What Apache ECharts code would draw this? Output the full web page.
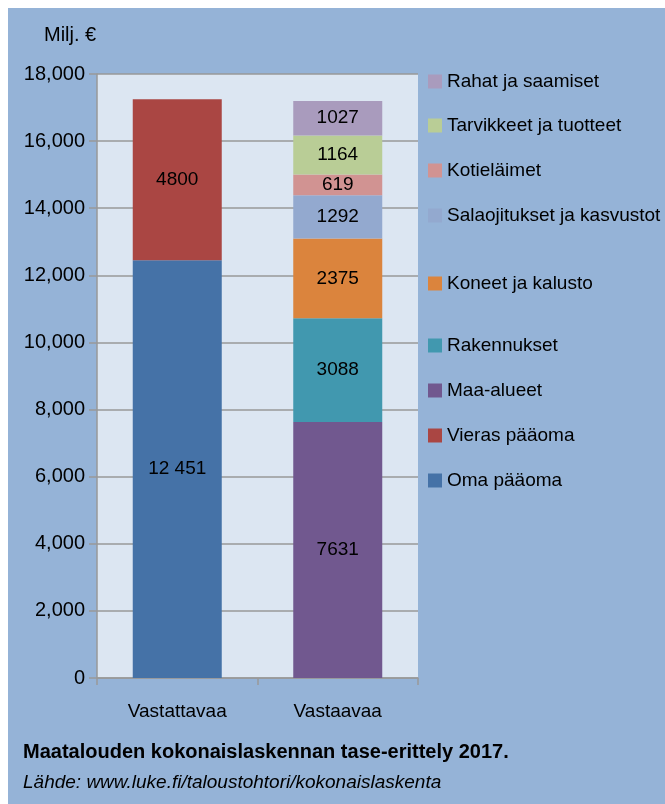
<!DOCTYPE html>
<html>
<head>
<meta charset="utf-8">
<script src="https://cdn.jsdelivr.net/npm/echarts@6/dist/echarts.min.js"></script>
<style>
  html, body { margin: 0; padding: 0; background: #fff; }
  #chart { position: absolute; left: 8px; top: 8px; width: 657px; height: 796px; }
</style>
</head>
<body>
<div id="chart"></div>
<script>
// data (Milj. €)
const categories = ['Vastattavaa', 'Vastaavaa'];
const yTicks = [0, 2000, 4000, 6000, 8000, 10000, 12000, 14000, 16000, 18000];

const omaPaaoma = [12451, '-'];
const vierasPaaoma = [4800, '-'];
const maaAlueet = ['-', 7631];
const rakennukset = ['-', 3088];
const koneet = ['-', 2375];
const salaojitukset = ['-', 1292];
const kotielaimet = ['-', 619];
const tarvikkeet = ['-', 1164];
const rahat = ['-', 1027];

const font = '"Liberation Sans", Arial, sans-serif';
const fs = 19;

// bottom to top of the stacks
const stackOrder = [
  { name: 'Oma pääoma', data: omaPaaoma, color: '#4572a7' },
  { name: 'Vieras pääoma', data: vierasPaaoma, color: '#aa4643' },
  { name: 'Maa-alueet', data: maaAlueet, color: '#71588f' },
  { name: 'Rakennukset', data: rakennukset, color: '#4198af' },
  { name: 'Koneet ja kalusto', data: koneet, color: '#db843d' },
  { name: 'Salaojitukset ja kasvustot', data: salaojitukset, color: '#93a9cf' },
  { name: 'Kotieläimet', data: kotielaimet, color: '#d19392' },
  { name: 'Tarvikkeet ja tuotteet', data: tarvikkeet, color: '#b9cd96' },
  { name: 'Rahat ja saamiset', data: rahat, color: '#a99bbd' }
];

// legend rows (top to bottom) and their centre y in the chart box
const legendNames = ['Rahat ja saamiset', 'Tarvikkeet ja tuotteet', 'Kotieläimet',
  'Salaojitukset ja kasvustot', 'Koneet ja kalusto', 'Rakennukset', 'Maa-alueet',
  'Vieras pääoma', 'Oma pääoma'];
const legendY = [73, 117, 162, 207, 275, 337, 382, 427, 472];

function fmtLabel(v) {
  let s = String(v);
  if (v >= 10000) s = s.slice(0, s.length - 3) + ' ' + s.slice(-3);
  return s;
}

let chart = echarts.init(document.getElementById('chart'));

let legends = legendNames.map((n, i) => ({
  data: [n],
  left: 420,
  top: legendY[i] - 9,
  orient: 'vertical',
  padding: 0,
  itemWidth: 14,
  itemHeight: 14,
  icon: 'rect',
  selectedMode: false,
  textStyle: { fontFamily: font, fontSize: fs, color: '#000' },
  itemGap: 0
}));

let option = {
  backgroundColor: '#95b3d7',
  animation: false,
  textStyle: { fontFamily: font },
  title: [
    {
      text: 'Maatalouden kokonaislaskennan tase-erittely 2017.',
      left: 10, top: 729,
      textStyle: { fontFamily: font, fontSize: 20, fontWeight: 'bold', color: '#000' }
    },
    {
      text: 'Lähde: www.luke.fi/taloustohtori/kokonaislaskenta',
      left: 10, top: 760,
      textStyle: { fontFamily: font, fontSize: fs, fontStyle: 'italic', fontWeight: 'normal', color: '#000' }
    },
    {
      text: 'Milj. €',
      left: 31, top: 12,
      textStyle: { fontFamily: font, fontSize: 20, fontWeight: 'normal', color: '#000' }
    }
  ],
  legend: legends,
  grid: {
    left: 89, top: 66, width: 321, height: 604,
    show: true, backgroundColor: '#dce6f2', borderWidth: 0
  },
  xAxis: {
    type: 'category',
    data: categories,
    axisLine: { lineStyle: { color: '#999', width: 1.5 } },
    axisTick: { show: true, length: 7, lineStyle: { color: '#999', width: 1.5 } },
    axisLabel: { fontFamily: font, fontSize: fs, color: '#000', margin: 24 }
  },
  yAxis: {
    type: 'value',
    min: 0, max: 18000, interval: 2000,
    axisLine: { show: true, lineStyle: { color: '#999', width: 1.5 } },
    axisTick: { show: true, length: 8, lineStyle: { color: '#999', width: 1.5 } },
    axisLabel: {
      fontFamily: font, fontSize: 20, color: '#000', margin: 12,
      formatter: v => yTicks.indexOf(v) >= 0 ? v.toLocaleString('en-US') : ''
    },
    splitLine: { lineStyle: { color: '#999', width: 1.5 } }
  },
  series: stackOrder.map(s => ({
    name: s.name,
    type: 'bar',
    stack: 'total',
    barWidth: 89,
    data: s.data,
    itemStyle: { color: s.color },
    label: {
      show: true,
      position: 'inside',
      fontFamily: font,
      fontSize: fs,
      color: '#000',
      formatter: p => fmtLabel(p.value)
    }
  }))
};

option && chart.setOption(option);
</script>
</body>
</html>
